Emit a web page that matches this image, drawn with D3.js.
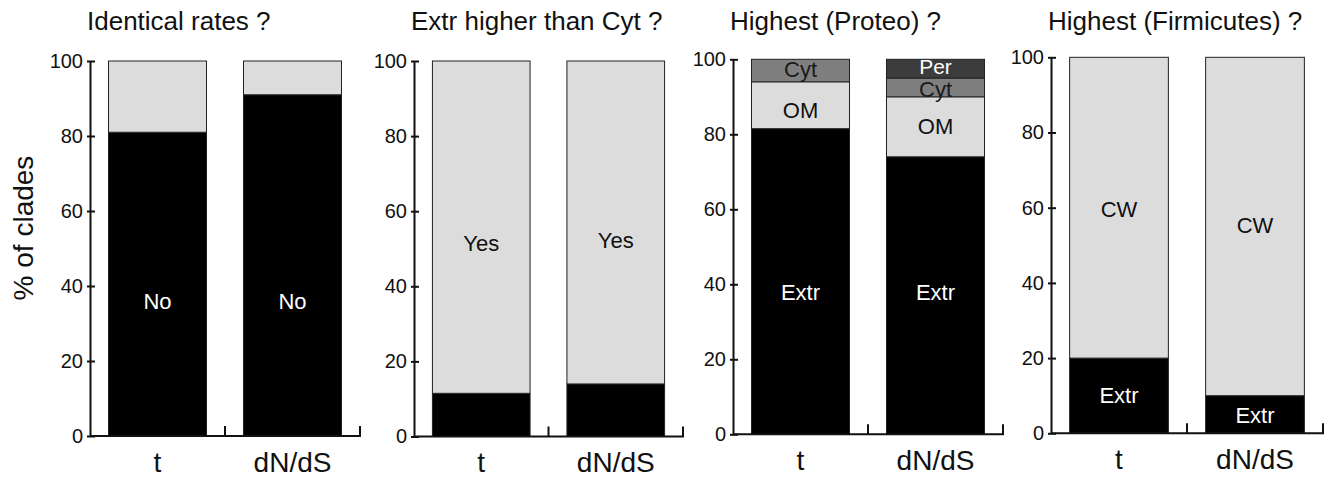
<!DOCTYPE html>
<html>
<head>
<meta charset="utf-8">
<script src="https://cdn.jsdelivr.net/npm/d3@7"></script>
<style>
  body { margin: 0; background: #fff; }
  svg { display: block; font-family: "Liberation Sans", Arial, sans-serif; }
</style>
</head>
<body>
<div id="chart"></div>
<script>
// Data
const groups = ["t", "dN/dS"];
const titles = ["Identical rates ?", "Extr higher than Cyt ?", "Highest (Proteo) ?", "Highest (Firmicutes) ?"];
const yTicks = [0, 20, 40, 60, 80, 100];

const rateKeys = ["No", "Yes"];
const rateValues = [[81, 19], [91, 9]];
const rateShown = ["No", ""];
const rateLabelY = [[34, null], [34, null]];

const extrKeys = ["No", "Yes"];
const extrValues = [[11.5, 88.5], [14, 86]];
const extrShown = ["", "Yes"];
const extrLabelY = [[null, 49.5], [null, 50.2]];

const proteoKeys = ["Extr", "OM", "Cyt", "Per"];
const proteoValues = [[81.5, 12.5, 6, 0], [74, 16, 5, 5]];
const proteoShown = ["Extr", "OM", "Cyt", "Per"];
const proteoLabelY = [[35.8, 84.3, 95.2, null], [35.8, 80.1, 90.0, 96.1]];

const firmiKeys = ["Extr", "CW"];
const firmiValues = [[20, 80], [10, 90]];
const firmiShown = ["Extr", "CW"];
const firmiLabelY = [[8, 57.4], [2.8, 53.2]];

// Styles per segment
const fills = { No: "#000", Yes: "#dcdcdc", Extr: "#000", OM: "#dcdcdc", Cyt: "#7f7f7f", Per: "#3c3c3c", CW: "#dcdcdc" };
const textFills = { No: "#fff", Yes: "#111", Extr: "#fff", OM: "#111", Cyt: "#1a1a1a", Per: "#fff", CW: "#111" };

// Panel frames (pixels)
const frames = [
    { x0: 90, x1: 360, top: 61, bottom: 436 },
    { x0: 414, x1: 683, top: 61, bottom: 436.5 },
    { x0: 733, x1: 1003, top: 59.3, bottom: 434.3 },
    { x0: 1051, x1: 1323, top: 57.3, bottom: 433.3 }
];

const panels = [
    { keys: rateKeys, values: rateValues, shown: rateShown, labelY: rateLabelY },
    { keys: extrKeys, values: extrValues, shown: extrShown, labelY: extrLabelY },
    { keys: proteoKeys, values: proteoValues, shown: proteoShown, labelY: proteoLabelY },
    { keys: firmiKeys, values: firmiValues, shown: firmiShown, labelY: firmiLabelY }
];

const svg = d3.select("#chart")
    .append("svg")
    .attr("width", 1325)
    .attr("height", 479);

// y axis title
svg.append("text")
    .attr("transform", "translate(33,228) rotate(-90)")
    .attr("text-anchor", "middle")
    .style("font-size", "28px")
    .style("fill", "#111")
    .text("% of clades");

panels.forEach((p, pi) => {
    const f = frames[pi];
    const g = svg.append("g");

    const x = d3.scaleBand()
        .domain(groups)
        .range([f.x0, f.x1])
        .paddingInner(0.274)
        .paddingOuter(0.137);

    const y = d3.scaleLinear()
        .domain([0, 100])
        .range([f.bottom, f.top]);

    // Stack rows
    const rows = groups.map((grp, i) => {
        const r = { group: grp };
        p.keys.forEach((k, j) => r[k] = p.values[i][j]);
        return r;
    });
    const series = d3.stack().keys(p.keys)(rows);

    series.forEach(s => {
        g.selectAll(null)
            .data(s.filter(d => d[1] - d[0] > 0))
            .enter()
            .append("rect")
            .attr("x", d => x(d.data.group))
            .attr("y", d => y(d[1]))
            .attr("width", x.bandwidth())
            .attr("height", d => y(d[0]) - y(d[1]))
            .attr("fill", fills[s.key])
            .attr("stroke", "#222")
            .attr("stroke-width", 1);
    });

    // Segment labels
    p.keys.forEach((k, j) => {
        if (!p.shown[j]) return;
        groups.forEach((grp, i) => {
            const v = p.labelY[i][j];
            if (v == null) return;
            g.append("text")
                .attr("x", x(grp) + x.bandwidth() / 2)
                .attr("y", y(v))
                .attr("text-anchor", "middle")
                .style("font-size", k === "Per" ? "21px" : "22px")
                .style("fill", textFills[k])
                .text(p.shown[j]);
        });
    });

    // Y axis
    const yAxis = g.append("g")
        .attr("transform", `translate(${f.x0},0)`)
        .call(d3.axisLeft(y)
            .tickValues(yTicks)
            .tickSizeOuter(0)
            .tickSizeInner(-5)
            .tickPadding(7));
    yAxis.select(".domain").attr("stroke", "#111").attr("stroke-width", 2);
    yAxis.selectAll(".tick line").attr("x1", -3).attr("stroke", "#111").attr("stroke-width", 2);
    yAxis.selectAll(".tick text")
        .style("font-size", "20px")
        .style("font-family", "\"Liberation Sans\", Arial, sans-serif")
        .attr("fill", "#111");

    // X axis line with upward ticks at band boundaries
    const mid = x(groups[1]) - x.step() * x.paddingInner() / 2;
    const y0 = y(0);
    g.append("path")
        .attr("d", `M${f.x0},${y0}H${f.x1}V${y0 - 10}M${mid},${y0}V${y0 - 10}`)
        .attr("fill", "none")
        .attr("stroke", "#111")
        .attr("stroke-width", 2);

    const xAxis = g.append("g")
        .attr("transform", `translate(0,${y0})`)
        .call(d3.axisBottom(x).tickSize(0).tickPadding(16));
    xAxis.select(".domain").remove();
    xAxis.selectAll(".tick text")
        .style("font-size", "28px")
        .style("font-family", "\"Liberation Sans\", Arial, sans-serif")
        .attr("fill", "#111");

    // Title
    svg.append("text")
        .attr("x", f.x0 - 3)
        .attr("y", 30)
        .style("font-size", "26px")
        .style("fill", "#111")
        .text(titles[pi]);
});
</script>
</body>
</html>
